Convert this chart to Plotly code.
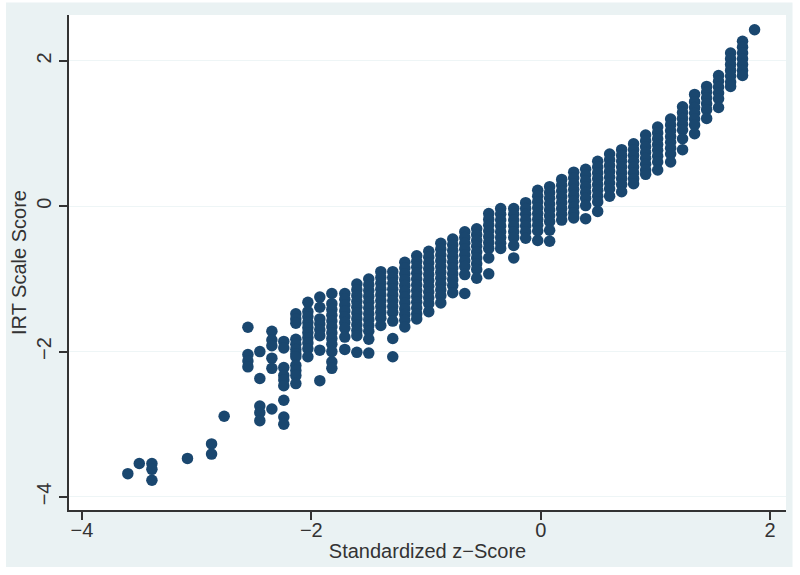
import plotly.graph_objects as go

tick_x = [-4, -2, 0, 2]
tick_y = [-4, -2, 0, 2]

low_z = [-3.60, -3.50, -3.39, -3.39, -3.39, -3.08, -2.87, -2.87, -2.76]
low_y = [-3.68, -3.54, -3.54, -3.62, -3.77, -3.47, -3.27, -3.41, -2.89]

column_z = [-2.553, -2.449, -2.344, -2.24, -2.135, -2.03, -1.926, -1.821, -1.708, -1.603,
            -1.499, -1.394, -1.29, -1.185, -1.081, -0.976, -0.871, -0.767, -0.662, -0.558,
            -0.453, -0.349, -0.235, -0.131, -0.026, 0.078, 0.183, 0.288, 0.392, 0.497,
            0.601, 0.706, 0.81, 0.915, 1.02, 1.133, 1.237, 1.342, 1.447, 1.551,
            1.656, 1.76, 1.865]

c01 = [-1.665, -2.04, -2.13, -2.21]
c02 = [-2.0, -2.37, -2.75, -2.84, -2.95]
c03 = [-1.72, -1.84, -1.92, -2.09, -2.23, -2.79]
c04 = [-1.86, -1.95, -2.22, -2.33, -2.39, -2.47, -2.67, -2.90, -3.00]
c05 = [-1.48, -1.55, -1.61, -1.83, -1.9, -1.97, -2.03, -2.07, -2.19, -2.26, -2.33, -2.44]
c06 = [-1.32, -1.45, -1.52, -1.6, -1.67, -1.74, -1.81, -1.88, -1.96, -2.07]
c07 = [-1.25, -1.39, -1.55, -1.62, -1.7, -1.78, -1.98, -2.40]
c08 = [-1.2, -1.34, -1.42, -1.5, -1.58, -1.66, -1.74, -1.82, -1.9, -2.0, -2.14, -2.23]
c09 = [-1.2, -1.28, -1.36, -1.44, -1.52, -1.6, -1.68, -1.8, -1.97]
c10 = [-1.07, -1.15, -1.23, -1.31, -1.39, -1.47, -1.55, -1.63, -1.71, -1.78, -2.01]
c11 = [-1.0, -1.08, -1.16, -1.24, -1.32, -1.4, -1.48, -1.56, -1.64, -1.72, -1.83, -2.02]
c12 = [-0.9, -0.98, -1.06, -1.14, -1.22, -1.3, -1.38, -1.46, -1.54, -1.64]
c13 = [-0.9, -0.98, -1.06, -1.14, -1.22, -1.3, -1.38, -1.46, -1.58, -1.82, -2.07]
c14 = [-0.77, -0.85, -0.93, -1.01, -1.09, -1.17, -1.25, -1.33, -1.41, -1.49, -1.57, -1.66]
c15 = [-0.68, -0.76, -0.84, -0.92, -1.0, -1.08, -1.16, -1.24, -1.32, -1.4, -1.48, -1.55]
c16 = [-0.62, -0.7, -0.78, -0.86, -0.94, -1.02, -1.1, -1.18, -1.26, -1.34, -1.45]
c17 = [-0.51, -0.59, -0.67, -0.75, -0.83, -0.91, -0.99, -1.07, -1.15, -1.23, -1.33]
c18 = [-0.45, -0.53, -0.61, -0.69, -0.77, -0.85, -0.93, -1.01, -1.09, -1.19]
c19 = [-0.35, -0.43, -0.51, -0.59, -0.67, -0.75, -0.83, -0.94, -1.2]
c20 = [-0.31, -0.39, -0.47, -0.55, -0.63, -0.71, -0.79, -0.87, -0.99]
c21 = [-0.10, -0.18, -0.26, -0.34, -0.42, -0.5, -0.58, -0.71, -0.93]
c22 = [-0.03, -0.11, -0.19, -0.27, -0.35, -0.43, -0.51, -0.58]
c23 = [-0.03, -0.11, -0.19, -0.27, -0.35, -0.43, -0.54, -0.71]
c24 = [0.05, -0.03, -0.11, -0.19, -0.27, -0.35, -0.44]
c25 = [0.22, 0.14, 0.06, -0.02, -0.1, -0.18, -0.26, -0.34, -0.47]
c26 = [0.27, 0.19, 0.11, 0.03, -0.05, -0.13, -0.21, -0.33, -0.48]
c27 = [0.37, 0.29, 0.21, 0.13, 0.05, -0.03, -0.11, -0.19]
c28 = [0.47, 0.39, 0.31, 0.23, 0.15, 0.07, -0.01, -0.09, -0.16]
c29 = [0.51, 0.43, 0.35, 0.27, 0.19, 0.11, 0.01, -0.17]
c30 = [0.62, 0.54, 0.46, 0.38, 0.3, 0.22, 0.14, 0.06, -0.07]
c31 = [0.72, 0.64, 0.56, 0.48, 0.4, 0.32, 0.24, 0.14]
c32 = [0.78, 0.7, 0.62, 0.54, 0.46, 0.38, 0.3, 0.2]
c33 = [0.86, 0.78, 0.7, 0.62, 0.54, 0.46, 0.38, 0.31]
c34 = [0.98, 0.9, 0.82, 0.74, 0.66, 0.58, 0.5, 0.44]
c35 = [1.09, 1.01, 0.93, 0.85, 0.77, 0.69, 0.61, 0.5]
c36 = [1.2, 1.12, 1.04, 0.96, 0.88, 0.8, 0.72, 0.61]
c37 = [1.37, 1.29, 1.21, 1.13, 1.05, 0.93, 0.78]
c38 = [1.54, 1.44, 1.36, 1.28, 1.2, 1.12, 1.0]
c39 = [1.65, 1.57, 1.49, 1.41, 1.33, 1.21]
c40 = [1.80, 1.72, 1.64, 1.56, 1.48, 1.36]
c41 = [2.11, 2.03, 1.95, 1.87, 1.79, 1.71, 1.65]
c42 = [2.27, 2.19, 2.11, 2.03, 1.95, 1.87, 1.80]
c43 = [2.43]

columns = [c01, c02, c03, c04, c05, c06, c07, c08, c09, c10, c11, c12, c13, c14, c15,
           c16, c17, c18, c19, c20, c21, c22, c23, c24, c25, c26, c27, c28, c29, c30,
           c31, c32, c33, c34, c35, c36, c37, c38, c39, c40, c41, c42, c43]

xs = list(low_z)
ys = list(low_y)
for z, col in zip(column_z, columns):
    xs += [z] * len(col)
    ys += col

PANEL = "#eaf2f3"
INK = "#333333"
FONT = "Liberation Sans"

fig = go.Figure(go.Scatter(
    x=xs, y=ys, mode="markers",
    marker=dict(color="#1a476f", size=11.5, line=dict(width=0)),
    showlegend=False, cliponaxis=False,
))

axis_common = dict(
    showline=True, linecolor=INK, linewidth=2, ticks="outside", ticklen=8, tickwidth=1.5,
    tickcolor=INK, zeroline=False, tickfont=dict(family=FONT, size=20, color=INK),
)
fig.update_xaxes(range=[-4.113, 2.139], tickvals=tick_x, showgrid=False,
                 ticklabelstandoff=-7,
                 title=dict(text="Standardized z\u2212Score", standoff=4,
                            font=dict(family=FONT, size=20, color=INK)),
                 **axis_common)
fig.update_yaxes(range=[-4.18, 2.633], tickvals=tick_y, tickangle=-90,
                 showgrid=True, gridcolor="#eef5f6", gridwidth=1,
                 title=dict(text="IRT Scale Score", standoff=1,
                            font=dict(family=FONT, size=20, color=INK)),
                 **axis_common)

fig.update_layout(
    width=800, height=575, margin=dict(l=69, r=14, t=15, b=65, autoexpand=False),
    paper_bgcolor="white", plot_bgcolor="white",
    shapes=[
        dict(type="rect", layer="below", xref="paper", yref="paper",
             x0=-63 / 717, x1=723.5 / 717, y0=-57 / 495, y1=507.5 / 495,
             fillcolor=PANEL, line_width=0),
        dict(type="rect", layer="below", xref="paper", yref="paper",
             x0=0, x1=1, y0=0, y1=1, fillcolor="white", line_width=0),
    ],
)
fig.write_html("out.html", config={"displayModeBar": False},
               post_script="document.body.style.margin='0';")
